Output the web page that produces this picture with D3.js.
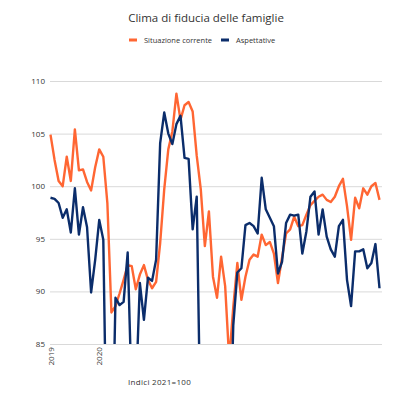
<!DOCTYPE html>
<html>
  <head>
    <title>Clima di fiducia delle famiglie</title>
    <script src="https://cdn.jsdelivr.net/npm/d3@7"></script>
    <style>
      body { margin: 0; background: #fff; }
      text { font-family: "Open Sans", "DejaVu Sans", sans-serif; fill: #333; }
    </style>
  </head>
  <body>
    <svg width="400" height="400" id="mainsvg"></svg>
    <script>
      // monthly series, Jan 2019 onwards (values below 85 are cut by the axis)
      const months = d3.timeMonth.range(new Date(2019, 0, 1), new Date(2025, 10, 1));
      const yearTicks = [new Date(2019, 0, 1), new Date(2020, 0, 1)];
      const yearLabels = ['2019', '2020'];
      const yTicks = [85, 90, 95, 100, 105, 110];
      const seriesNames = ['Situazione corrente', 'Aspettative'];
      const seriesColors = ['#ff6633', '#0b2d6b'];

      const corrente = [
        104.9, 102.5, 100.5, 100.0, 102.8, 100.5, 105.4, 101.5, 101.6, 100.4, 99.6, 101.8,
        103.5, 102.8, 98.4, 88.0, 88.6, 89.8, 91.1, 92.5, 92.4, 90.2, 91.6, 92.5,
        91.1, 90.3, 90.9, 94.6, 99.7, 103.5, 105.2, 108.8, 106.3, 107.7, 108.0, 107.1,
        102.9, 99.7, 94.3, 97.6, 91.4, 89.4, 93.3, 90.5, 83.5, 88.5, 92.7, 89.2,
        91.4, 93.0, 93.5, 93.3, 95.4, 94.4, 94.7, 93.6, 90.8, 93.2, 95.5, 95.9,
        97.1, 96.2, 96.3, 97.3, 98.2, 98.6, 99.0, 99.2, 98.7, 98.5, 99.0, 100.0,
        100.7, 98.1, 94.9, 98.9, 97.9, 99.8, 99.2, 100.0, 100.3, 98.7
      ];
      const aspettative = [
        98.9, 98.8, 98.4, 97.0, 97.8, 95.6, 99.8, 95.4, 98.0, 96.1, 89.9, 93.0,
        96.8, 94.9, 70.0, 70.0, 89.4, 88.7, 89.0, 93.7, 80.0, 80.0, 90.8, 87.3,
        91.3, 91.0, 93.0, 104.1, 107.0, 105.0, 104.0, 105.9, 106.7, 102.7, 102.6, 95.9,
        99.0, 75.0, 70.0, 70.0, 70.0, 70.0, 70.0, 70.0, 72.0, 86.8, 91.8, 92.2,
        96.3, 96.5, 96.2, 95.5, 100.8, 97.8, 97.0, 96.2, 91.7, 92.8, 96.5, 97.3,
        97.2, 97.3, 93.6, 95.7, 99.0, 99.5, 95.4, 97.8, 95.2, 94.0, 93.3, 96.2,
        96.8, 91.1, 88.6, 93.8, 93.8, 94.0, 92.2, 92.7, 94.5, 90.3
      ];

      const svg = d3.select('#mainsvg');
      const margin = {top: 81, right: 20, bottom: 56, left: 50};
      const innerWidth = 380 - margin.left;
      const innerHeight = 344 - margin.top;

      const xScale = d3.scalePoint().domain(months).range([0.5, innerWidth - 0.5]);
      const yScale = d3.scaleLinear().domain([85, 110]).range([innerHeight, 0]);

      svg.append('text')
        .attr('x', 206).attr('y', 22)
        .attr('text-anchor', 'middle')
        .attr('font-size', 11.5)
        .text('Clima di fiducia delle famiglie');

      // legend
      const legend = svg.append('g').attr('transform', 'translate(129, 40)');
      const legendX = [0, 92];
      seriesNames.forEach((name, k) => {
        const lg = legend.append('g').attr('transform', `translate(${legendX[k]}, 0)`);
        lg.append('rect').attr('x', 0).attr('y', -1.5).attr('width', 8).attr('height', 3)
          .attr('fill', seriesColors[k]);
        lg.append('text').attr('x', 15).attr('y', 3)
          .attr('font-size', 7.5)
          .text(name);
      });

      const g = svg.append('g')
        .attr('transform', `translate(${margin.left}, ${margin.top})`);

      // grid + y labels
      const yAxis = d3.axisLeft(yScale).tickValues(yTicks)
        .tickSize(-(innerWidth + 2)).tickPadding(5);
      g.append('g').call(yAxis)
        .call(a => a.select('.domain').remove())
        .call(a => a.selectAll('line').attr('stroke', '#d9d9d9'))
        .call(a => a.selectAll('text').attr('font-size', 8).attr('fill', '#333'));

      // x labels, rotated
      const xAxis = d3.axisBottom(xScale).tickValues(yearTicks)
        .tickFormat((d, k) => yearLabels[k]).tickSize(0);
      g.append('g').attr('transform', `translate(0, ${innerHeight})`).call(xAxis)
        .call(a => a.select('.domain').remove())
        .call(a => a.selectAll('text')
          .attr('font-size', 8).attr('fill', '#333')
          .attr('text-anchor', 'end')
          .attr('transform', 'rotate(-90)')
          .attr('dx', '-0.4em').attr('dy', '0.32em').attr('y', 0).attr('x', 0));

      svg.append('text')
        .attr('x', 128).attr('y', 385)
        .attr('font-size', 8).attr('letter-spacing', 0.3)
        .text('Indici 2021=100');

      svg.append('clipPath').attr('id', 'plotclip')
        .append('rect').attr('x', -2).attr('y', -5)
        .attr('width', innerWidth + 4).attr('height', innerHeight + 5);

      const lineGen = values => d3.line()
        .x((d, k) => xScale(months[k]))
        .y(d => yScale(d))(values);

      const plot = g.append('g').attr('clip-path', 'url(#plotclip)');
      [corrente, aspettative].forEach((values, k) => {
        plot.append('path')
          .attr('d', lineGen(values))
          .attr('fill', 'none')
          .attr('stroke', seriesColors[k])
          .attr('stroke-width', 2.4)
          .attr('stroke-linejoin', 'round');
      });
    </script>
  </body>
</html>
